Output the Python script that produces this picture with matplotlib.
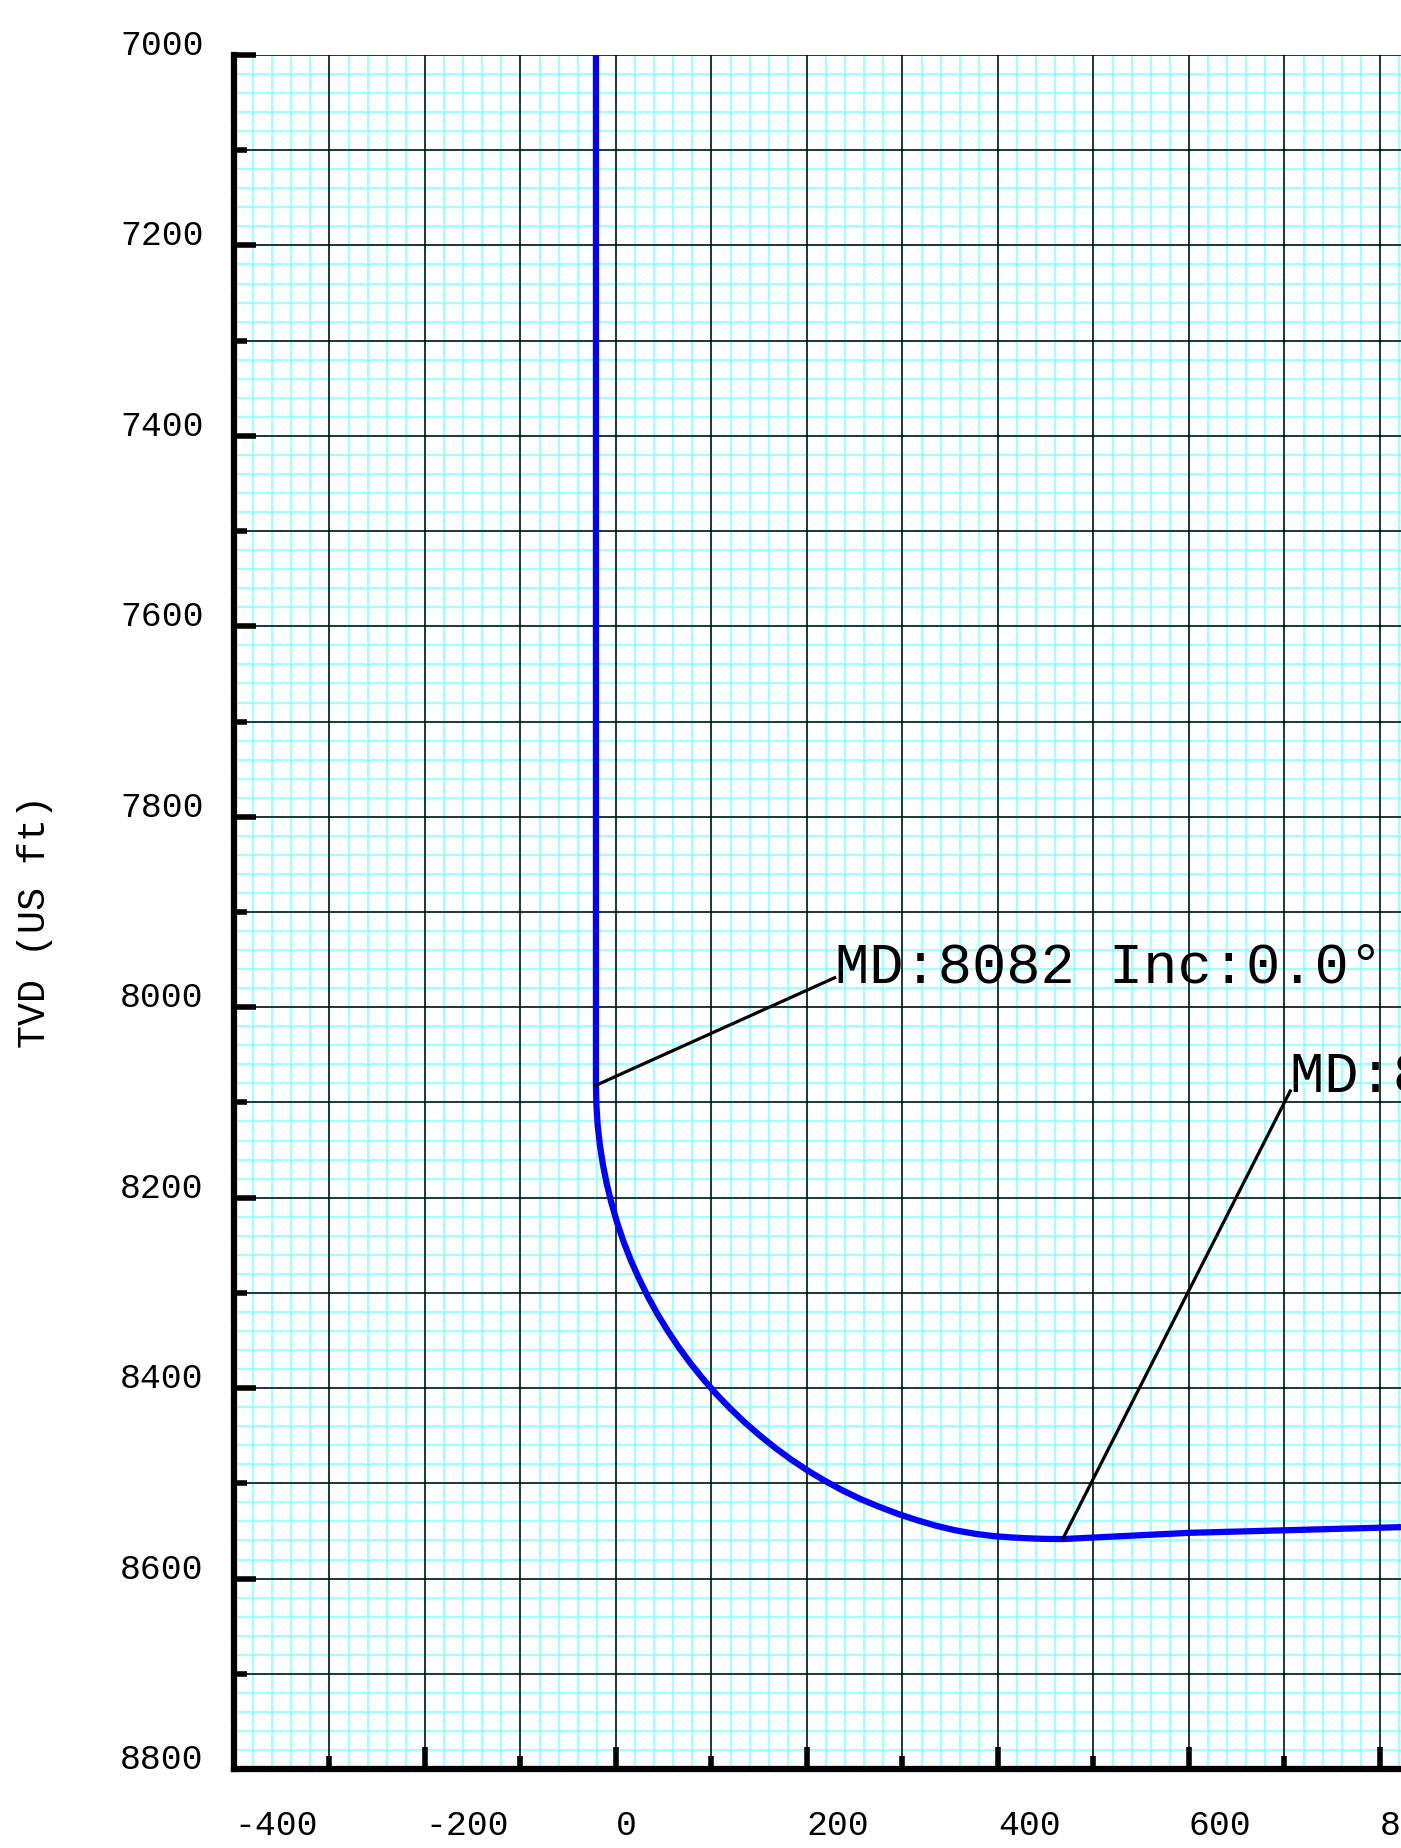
import numpy as np
import matplotlib
matplotlib.use("Agg")
import matplotlib.pyplot as plt
from matplotlib.ticker import MultipleLocator

plt.rcParams['font.family'] = ['Liberation Mono', 'DejaVu Sans Mono']
plt.rcParams['axes.unicode_minus'] = False

# well path (section view): vertical section vs TVD, US ft
vs = [-21, -21, -20.5, -19.2, -16.9, -13.7, -9.6, -4.6, 1.2, 7.9, 15.5, 24.0, 33.2, 43.3,
      54.2, 65.8, 78.2, 91.3, 105.1, 119.6, 134.7, 150.5, 166.8, 183.7, 201.1, 219,
      237.4, 256, 275.3, 295, 314.7, 335, 355.1, 376, 396.3, 417, 438, 453, 468, 600, 822]
tvd = [7000, 8082, 8102.9, 8123.8, 8144.7, 8165.3, 8185.9, 8206.2, 8226.3, 8246.2, 8265.7,
       8284.8, 8303.6, 8322, 8339.9, 8357.3, 8374.2, 8390.5, 8406.3, 8421.4, 8435.9, 8449.7,
       8462.8, 8475.2, 8486.8, 8497.5, 8507.5, 8516.5, 8524.5, 8532, 8538.5, 8544.5, 8549.3,
       8553, 8555.5, 8557, 8558, 8558.4, 8558.5, 8552, 8546]

# annotations: leader line ends and text
lead1_vs = [-21, 229]
lead1_tvd = [8082, 7969]
label1 = "MD:8082 Inc:0.0°"
lead2_vs = [468, 706]
lead2_tvd = [8558, 8088]
label2 = "MD:8836 Inc:91.9°"

xmin, xmax = -400, 822
ymin, ymax = 7000, 8800

fig = plt.figure(figsize=(14.01, 18.48), dpi=100)
ax = fig.add_axes([234/1401, 79/1848, 1 - 234/1401, (1769-55)/1848])

ax.set_xlim(xmin, xmax)
ax.set_ylim(ymax, ymin)

# fine cyan grid every 20 ft
ax.vlines(np.arange(-400, 1000, 20), ymin, ymax, colors='#a0ffff', lw=1.6, zorder=0.3)
ax.hlines(np.arange(7000, 8820, 20), xmin, xmax, colors='#a0ffff', lw=1.6, zorder=0.3)

ax.xaxis.set_major_locator(MultipleLocator(200))
ax.xaxis.set_minor_locator(MultipleLocator(100))
ax.yaxis.set_major_locator(MultipleLocator(200))
ax.yaxis.set_minor_locator(MultipleLocator(100))
ax.grid(which='both', color='black', lw=1.1)
ax.set_axisbelow(True)

for s in ['top', 'right']:
    ax.spines[s].set_visible(False)
for s in ['left', 'bottom']:
    ax.spines[s].set_linewidth(4.5)

ax.tick_params(which='both', direction='in', width=4, color='black',
               top=False, right=False)
ax.tick_params(which='major', length=16, labelsize=25)
ax.tick_params(which='minor', length=9.5)
ax.tick_params(axis='y', which='major', pad=22)
ax.tick_params(axis='x', which='major', pad=29)

ax.plot(vs, tvd, color='#0000ff', lw=4.5, zorder=3, solid_capstyle='butt',
        solid_joinstyle='round')

ax.plot(lead1_vs, lead1_tvd, color='black', lw=2.3, zorder=4)
ax.text(lead1_vs[1], lead1_tvd[1] + 5, label1, fontsize=41, ha='left', va='baseline', zorder=5)
ax.plot(lead2_vs, lead2_tvd, color='black', lw=2.3, zorder=4)
ax.text(lead2_vs[1], lead2_tvd[1] + 1, label2, fontsize=41, ha='left', va='baseline', zorder=5,
        clip_on=False)

fig.canvas.draw()
for t in ax.get_yticklabels():
    t.set_va('baseline')
for t in ax.get_xticklabels():
    t.set_ha('left')

fig.text(35/1401, 1 - 922/1848, "TVD (US ft)", rotation=90, fontsize=27.5,
         ha='center', va='center')

fig.savefig("out.png", dpi=100)
